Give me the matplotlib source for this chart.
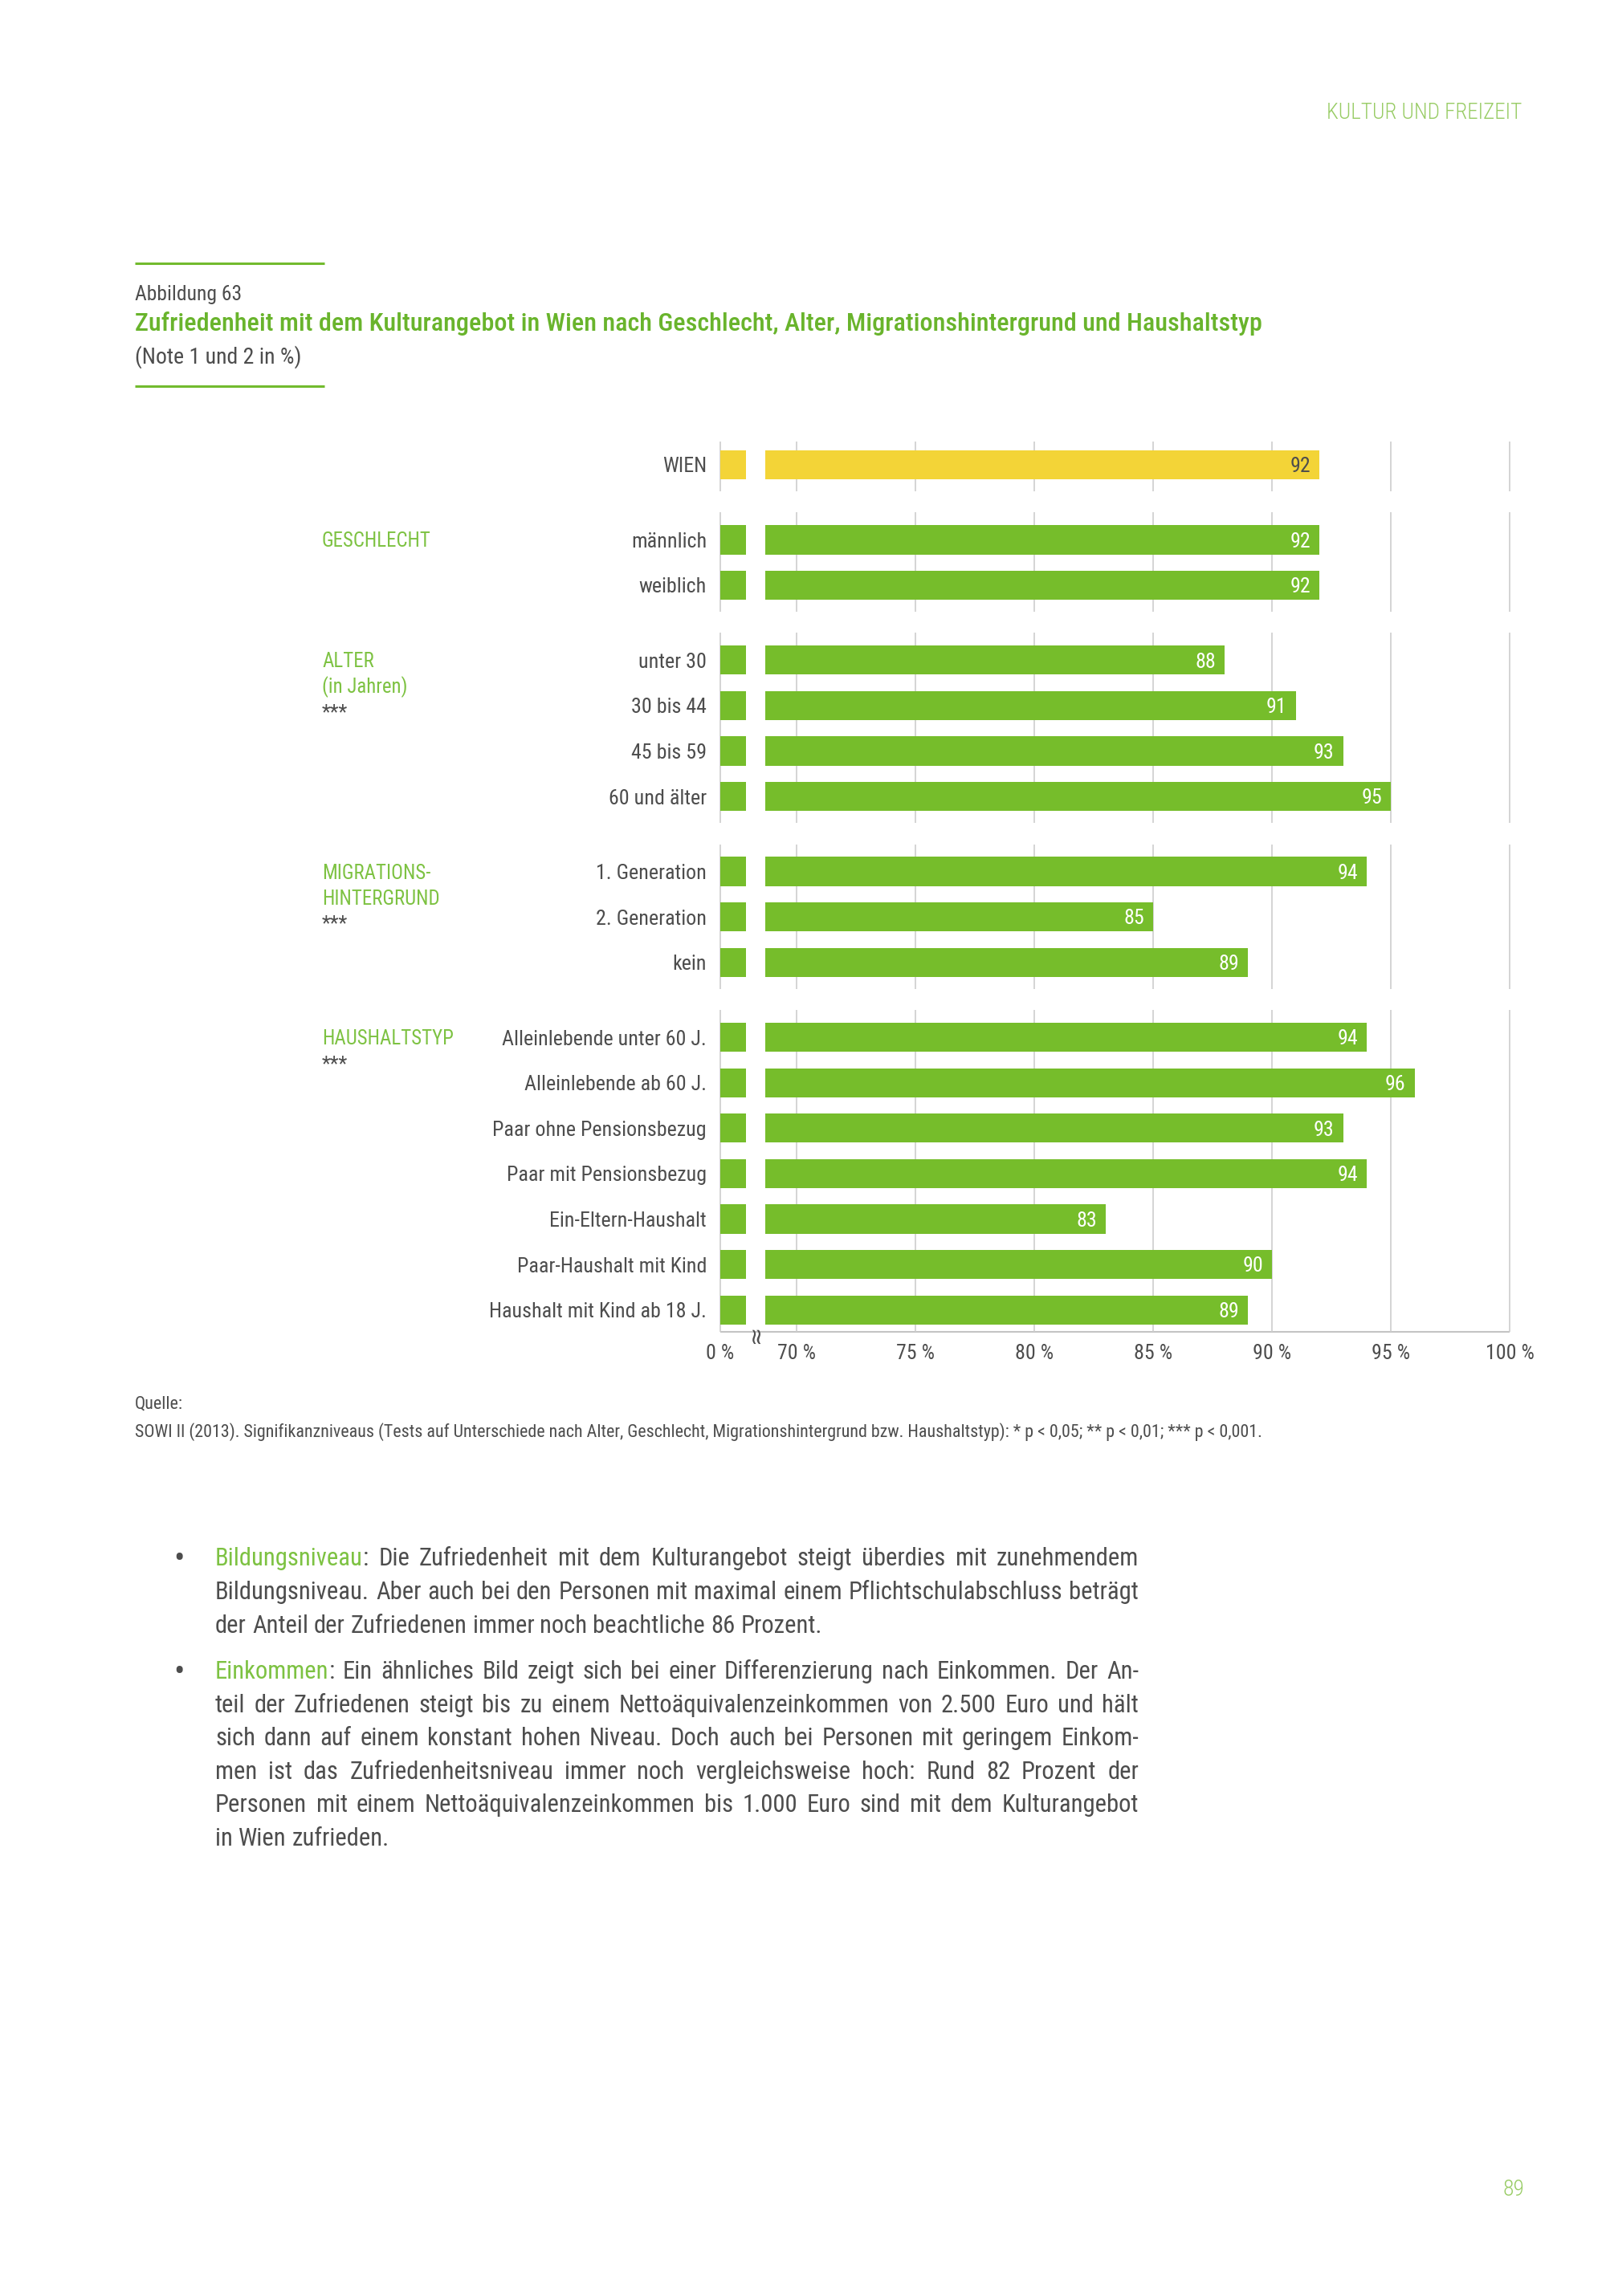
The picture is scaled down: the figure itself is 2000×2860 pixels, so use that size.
import os
import matplotlib
matplotlib.use("Agg")
import matplotlib.pyplot as plt
from matplotlib import font_manager as fm
from matplotlib import transforms

#------------------------------------------------------------------------------
# Data
categories = ["WIEN",
              "männlich", "weiblich",
              "unter 30", "30 bis 44", "45 bis 59", "60 und älter",
              "1. Generation", "2. Generation", "kein",
              "Alleinlebende unter 60 J.", "Alleinlebende ab 60 J.",
              "Paar ohne Pensionsbezug", "Paar mit Pensionsbezug",
              "Ein-Eltern-Haushalt", "Paar-Haushalt mit Kind",
              "Haushalt mit Kind ab 18 J."]
values = [92, 92, 92, 88, 91, 93, 95, 94, 85, 89, 94, 96, 93, 94, 83, 90, 89]
group_sizes = [1, 2, 4, 3, 7]
group_titles = [[],
                ["GESCHLECHT"],
                ["ALTER", "(in Jahren)", "***"],
                ["MIGRATIONS-", "HINTERGRUND", "***"],
                ["HAUSHALTSTYP", "***"]]
tick_values = [70, 75, 80, 85, 90, 95, 100]
tick_labels = ["70 %", "75 %", "80 %", "85 %", "90 %", "95 %", "100 %"]
zero_label = "0 %"

header_text = "KULTUR UND FREIZEIT"
figure_no = "Abbildung 63"
title_text = ("Zufriedenheit mit dem Kulturangebot in Wien nach Geschlecht, "
              "Alter, Migrationshintergrund und Haushaltstyp")
note_text = "(Note 1 und 2 in %)"
source_head = "Quelle:"
source_text = ("SOWI II (2013). Signifikanzniveaus (Tests auf Unterschiede nach "
               "Alter, Geschlecht, Migrationshintergrund bzw. Haushaltstyp): "
               "* p < 0,05; ** p < 0,01; *** p < 0,001.")
page_number = "89"
para_keywords = ["Bildungsniveau", "Einkommen"]
para_lines = [
    ["Bildungsniveau: Die Zufriedenheit mit dem Kulturangebot steigt überdies mit zunehmendem",
     "Bildungsniveau. Aber auch bei den Personen mit maximal einem Pflichtschulabschluss beträgt",
     "der Anteil der Zufriedenen immer noch beachtliche 86 Prozent."],
    ["Einkommen: Ein ähnliches Bild zeigt sich bei einer Differenzierung nach Einkommen. Der An-",
     "teil der Zufriedenen steigt bis zu einem Nettoäquivalenzeinkommen von 2.500 Euro und hält",
     "sich dann auf einem konstant hohen Niveau. Doch auch bei Personen mit geringem Einkom-",
     "men ist das Zufriedenheitsniveau immer noch vergleichsweise hoch: Rund 82 Prozent der",
     "Personen mit einem Nettoäquivalenzeinkommen bis 1.000 Euro sind mit dem Kulturangebot",
     "in Wien zufrieden."]]

#------------------------------------------------------------------------------
# Colours
GREEN_BAR = "#76bd2b"
YELLOW_BAR = "#f3d437"
GRID = "#cdcdcd"
AXIS = "#c4c4c4"
TEXT_GRAY = "#4d4d4d"
TITLE_GREEN = "#69b42c"
GROUP_GREEN = "#7dc242"
HEADER_GREEN = "#98cc65"
RULE_GREEN = "#72bb2e"

# Page geometry (pixels)
W, H, DPI = 2000, 2860, 100
LEFT = 168
STUB_L, STUB_R = 897, 929
MAIN_L, X70, X100 = 953, 992, 1880
CHART_TOP, AXIS_Y = 550, 1659
ROW0_Y, ROW_PITCH = 579, 56.6
GROUP_STEP = 1.65
BAR_H = 0.64
LABEL_R = 880
GROUP_X = 401
TEXT_L, TEXT_R, BULLET_X = 268, 1418, 223

#------------------------------------------------------------------------------
# Fonts: prefer a narrow sans, fall back to Roboto
font_files = {os.path.basename(f.fname).lower(): f.fname
              for f in fm.fontManager.ttflist}

def pick(files):
    for name in files:
        if name.lower() in font_files:
            return font_files[name.lower()]
    return None

REG = pick(["LiberationSansNarrow-Regular.ttf", "RobotoCondensed-Regular.ttf",
            "NotoSans-Condensed.ttf", "DejaVuSansCondensed.ttf"])
BOLD = pick(["RobotoCondensed-Medium.ttf", "LiberationSansNarrow-Bold.ttf",
             "RobotoCondensed-Bold.ttf", "NotoSans-CondensedSemiBold.ttf",
             "DejaVuSansCondensed-Bold.ttf"])
LIGHT = pick(["RobotoCondensed-Light.ttf", "NotoSans-CondensedLight.ttf"]) or REG

def make_font(path, size, weight="normal"):
    if path:
        return fm.FontProperties(fname=path, size=size)
    return fm.FontProperties(family=["Roboto", "DejaVu Sans"], weight=weight, size=size)

fig = plt.figure(figsize=(W / DPI, H / DPI), dpi=DPI, facecolor="white")
renderer = fig.canvas.get_renderer()

def text_w(s, fp):
    return renderer.get_text_width_height_descent(s, fp, ismath=False)[0]

def fitted(path, sample, width, weight="normal"):
    fp = make_font(path, 10, weight)
    return make_font(path, 10 * width / text_w(sample, fp), weight)

def cap_half(fp):
    return 0.36 * fp.get_size_in_points() * DPI / 72

fp_label = fitted(REG, "Alleinlebende unter 60 J.", 253)
fp_tick = fitted(REG, "100 %", 60)
fp_group = fitted(REG, "HAUSHALTSTYP", 164)
fp_title = fitted(BOLD, title_text, 1398, "bold")
fp_fig = fitted(REG, figure_no, 133)
fp_note = fitted(REG, note_text, 207)
fp_src = fitted(REG, source_text, 1398)
fp_head = fitted(LIGHT, header_text, 242)
fp_page = fitted(LIGHT, page_number, 27)

# body size: last line width as in the print, but every justified line must fit
body_sizes = [fitted(REG, para_lines[0][2], 781).get_size_in_points()]
for lines in para_lines:
    for line in lines[:-1]:
        body_sizes.append(fitted(REG, line, (TEXT_R - TEXT_L) * 0.985).get_size_in_points())
fp_body = make_font(REG, min(body_sizes))
fp_bullet = make_font(REG, fp_body.get_size_in_points() * 1.3)

#------------------------------------------------------------------------------
page = fig.add_axes([0, 0, 1, 1])
page.set_xlim(0, W)
page.set_ylim(H, 0)
page.axis("off")

def px_axes(left, top, right, bottom):
    ax = fig.add_axes([left / W, 1 - bottom / H, (right - left) / W, (bottom - top) / H])
    ax.patch.set_visible(False)
    for sp in ax.spines.values():
        sp.set_visible(False)
    ax.set_yticks([])
    return ax

# row positions per group
rows, spans = [], []
y = 0.0
for gi, n in enumerate(group_sizes):
    if gi > 0:
        y += GROUP_STEP
    first = y
    for k in range(n):
        rows.append(y)
        if k < n - 1:
            y += 1
    spans.append((first, y))

y_top = (CHART_TOP - ROW0_Y) / ROW_PITCH
y_bot = (AXIS_Y - ROW0_Y) / ROW_PITCH
px_pct = (X100 - X70) / 30.0
main_r = X100 + 8
ax = px_axes(MAIN_L, CHART_TOP, main_r, AXIS_Y)
ax.set_xlim(70 - (X70 - MAIN_L) / px_pct, 100 + (main_r - X100) / px_pct)
ax.set_ylim(y_bot, y_top)

stub_ax_l = STUB_L - 6
ax0 = px_axes(stub_ax_l, CHART_TOP, STUB_R, AXIS_Y)
ax0.set_xlim(-(STUB_L - stub_ax_l) / (STUB_R - STUB_L), 1)
ax0.set_ylim(y_bot, y_top)

colors = [YELLOW_BAR] + [GREEN_BAR] * (len(values) - 1)
ax.barh(rows, values, height=BAR_H, color=colors, zorder=2)
ax0.barh(rows, values, height=BAR_H, color=colors, zorder=2)

for gi, (a, b) in enumerate(spans):
    y1 = y_bot if gi == len(spans) - 1 else b + 0.58
    ax.vlines(tick_values, a - 0.6, y1, colors=GRID, lw=1.2, zorder=1)
    ax0.vlines([0], a - 0.6, y1, colors=GRID, lw=1.2, zorder=1)

# value labels inside bars
for v, r, c in zip(values, rows, colors):
    ax.annotate(str(v), xy=(v, r), xytext=(-11, -cap_half(fp_tick)),
                textcoords="offset pixels", ha="right", va="baseline",
                color=TEXT_GRAY if c == YELLOW_BAR else "white",
                fontproperties=fp_tick, zorder=3)

# x ticks
ax.set_xticks(tick_values)
ax.set_xticklabels(tick_labels, fontproperties=fp_tick, color=TEXT_GRAY)
ax0.set_xticks([0])
ax0.set_xticklabels([zero_label], fontproperties=fp_tick, color=TEXT_GRAY)
for a_ in (ax, ax0):
    a_.tick_params(axis="x", length=0, pad=11)

# axis line with break mark
page.plot([STUB_L, X100], [AXIS_Y, AXIS_Y], color=AXIS, lw=1.5, solid_capstyle="butt")
page.text((STUB_R + MAIN_L) / 2, AXIS_Y + 3, "≈", rotation=90, ha="center", va="center",
          rotation_mode="anchor", fontsize=20, color=TEXT_GRAY, family="DejaVu Sans")

# category and group labels
row_trans = transforms.blended_transform_factory(page.transData, ax.transData)
lab_trans = transforms.offset_copy(row_trans, fig=fig, y=-cap_half(fp_label), units="dots")
for name, r in zip(categories, rows):
    page.text(LABEL_R, r, name, transform=lab_trans, ha="right", va="baseline",
              color=TEXT_GRAY, fontproperties=fp_label)

for (a, b), lines in zip(spans, group_titles):
    for i, line in enumerate(lines):
        tr = transforms.offset_copy(row_trans, fig=fig,
                                    y=-(cap_half(fp_group) + i * 32), units="dots")
        page.text(GROUP_X, a, line, transform=tr, ha="left", va="baseline",
                  color=TEXT_GRAY if line.startswith("*") else GROUP_GREEN,
                  fontproperties=fp_group)

#------------------------------------------------------------------------------
# Page texts
page.text(1895, 148, header_text, ha="right", va="baseline", color=HEADER_GREEN,
          fontproperties=fp_head)
page.plot([LEFT, LEFT + 236], [328, 328], color=RULE_GREEN, lw=2.2, solid_capstyle="butt")
page.plot([LEFT, LEFT + 236], [481, 481], color=RULE_GREEN, lw=2.2, solid_capstyle="butt")
page.text(LEFT, 374, figure_no, ha="left", va="baseline", color=TEXT_GRAY, fontproperties=fp_fig)
page.text(LEFT, 412, title_text, ha="left", va="baseline", color=TITLE_GREEN,
          fontproperties=fp_title)
page.text(LEFT, 453, note_text, ha="left", va="baseline", color=TEXT_GRAY, fontproperties=fp_note)
page.text(LEFT, 1755, source_head, ha="left", va="baseline", color=TEXT_GRAY, fontproperties=fp_src)
page.text(LEFT, 1790, source_text, ha="left", va="baseline", color=TEXT_GRAY, fontproperties=fp_src)
page.text(1898, 2735, page_number, ha="right", va="baseline", color=HEADER_GREEN,
          fontproperties=fp_page)

# justified bullet paragraphs
para_baselines = [[1950, 1992, 2034], [2091, 2133, 2174, 2216, 2257, 2299]]
space_w = text_w("a a", fp_body) - text_w("aa", fp_body)
for lines, key, bases in zip(para_lines, para_keywords, para_baselines):
    page.text(BULLET_X, bases[0] + 4, "•", ha="center", va="baseline", color=TEXT_GRAY,
              fontproperties=fp_bullet)
    for i, (line, yb) in enumerate(zip(lines, bases)):
        words = line.split(" ")
        segs = []
        for j, w in enumerate(words):
            if i == 0 and j == 0 and w.startswith(key):
                segs.append([(key, GROUP_GREEN), (w[len(key):], TEXT_GRAY)])
            else:
                segs.append([(w, TEXT_GRAY)])
        widths = [sum(text_w(s, fp_body) for s, _ in sg) for sg in segs]
        if i < len(lines) - 1:
            gap = (TEXT_R - TEXT_L - sum(widths)) / (len(words) - 1)
        else:
            gap = space_w
        x = TEXT_L
        for sg, ww in zip(segs, widths):
            xx = x
            for s, c in sg:
                page.text(xx, yb, s, ha="left", va="baseline", color=c, fontproperties=fp_body)
                xx += text_w(s, fp_body)
            x += ww + gap

fig.savefig("out.png", dpi=DPI, facecolor="white")
